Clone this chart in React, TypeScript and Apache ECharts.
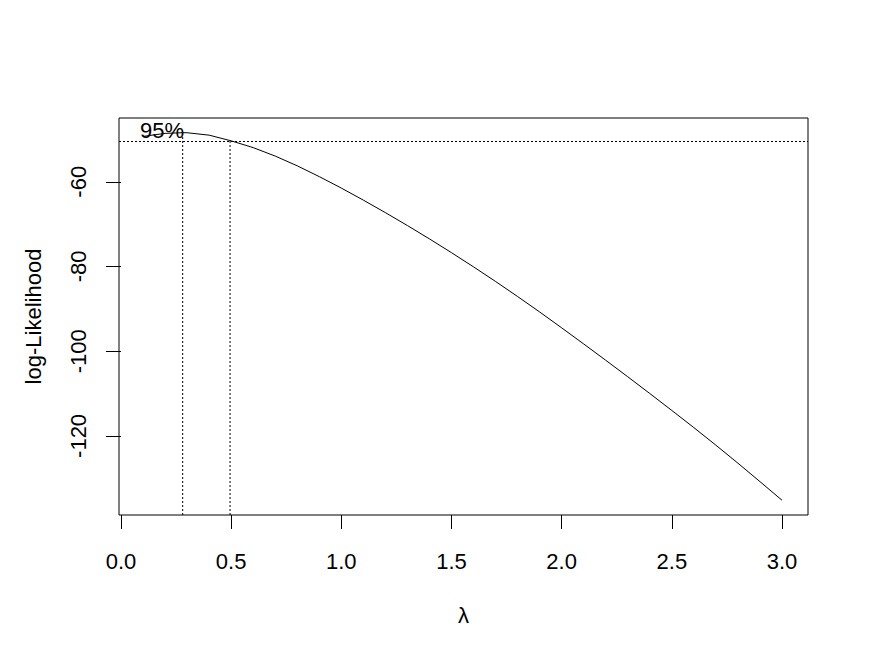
import React, { useEffect, useRef } from "react";
import * as echarts from "echarts";

const LAMBDA = [0.1, 0.2, 0.28, 0.3, 0.4, 0.5, 0.6, 0.7, 0.8, 0.9, 1.0, 1.1, 1.2, 1.3, 1.4, 1.5, 1.6, 1.7, 1.8, 1.9, 2.0, 2.1, 2.2, 2.3, 2.4, 2.5, 2.6, 2.7, 2.8, 2.9, 3.0];
const LOGLIK = [-49.3, -48.58, -48.42, -48.43, -49.0, -50.34, -51.94, -53.94, -56.24, -58.79, -61.49, -64.34, -67.29, -70.34, -73.49, -76.74, -80.09, -83.54, -87.09, -90.74, -94.49, -98.29, -102.14, -106.04, -109.99, -113.99, -118.04, -122.19, -126.44, -130.79, -135.19];
const X_TICKS = [0, 0.5, 1.0, 1.5, 2.0, 2.5, 3.0];
const Y_TICKS = [-120, -100, -80, -60];
const MLE_LAMBDA = 0.28;
const CI_UPPER = 0.495;
const LIM = -50.34;
const X_RANGE = [-0.009, 3.118];
const Y_RANGE = [-138.67, -44.95];
const LABEL_POS = [0.186, -47.8];

const FONT = "'Liberation Sans', Arial, sans-serif";

export default function App() {
  const ref = useRef<HTMLDivElement>(null);
  useEffect(() => {
    if (!ref.current) return;
    const chart = echarts.init(ref.current, null, { renderer: "svg" });
    const mx = Math.max(...LOGLIK);
    const dotted = { color: "#000", width: 1, type: [2, 2] as any };
    chart.setOption({
      animation: false,
      backgroundColor: "#fff",
      grid: {
        left: 119,
        top: 118,
        right: 61,
        bottom: 147,
        show: true,
        borderColor: "#000",
        borderWidth: 1,
        backgroundColor: "transparent",
      },
      xAxis: {
        type: "value",
        min: X_RANGE[0],
        max: X_RANGE[1],
        name: "λ",
        nameLocation: "middle",
        nameGap: 89,
        nameTextStyle: { fontFamily: FONT, fontSize: 22, color: "#000" },
        axisLine: { show: false },
        splitLine: { show: false },
        axisTick: { show: true, length: 14, customValues: X_TICKS, lineStyle: { color: "#000", width: 1 } },
        axisLabel: {
          customValues: X_TICKS,
          formatter: (v: number) => v.toFixed(1),
          fontFamily: FONT,
          fontSize: 22,
          color: "#000",
          margin: 35,
        },
      },
      yAxis: {
        type: "value",
        min: Y_RANGE[0],
        max: Y_RANGE[1],
        name: "log-Likelihood",
        nameLocation: "middle",
        nameGap: 75,
        nameTextStyle: { fontFamily: FONT, fontSize: 22, color: "#000" },
        axisLine: { show: false },
        splitLine: { show: false },
        axisTick: { show: true, length: 15, customValues: Y_TICKS, lineStyle: { color: "#000", width: 1 } },
        axisLabel: {
          customValues: Y_TICKS,
          formatter: (v: number) => String(v),
          rotate: 90,
          fontFamily: FONT,
          fontSize: 22,
          color: "#000",
          margin: 30,
        },
      },
      series: [
        {
          type: "line",
          data: LAMBDA.map((x, i) => [x, LOGLIK[i]]),
          showSymbol: false,
          symbol: "none",
          lineStyle: { color: "#000", width: 1 },
          markLine: {
            silent: true,
            symbol: "none",
            label: { show: false },
            lineStyle: dotted,
            data: [{ yAxis: LIM }],
          },
        },
        {
          type: "line",
          data: [[MLE_LAMBDA, Y_RANGE[0]], [MLE_LAMBDA, mx]],
          symbol: "none",
          lineStyle: dotted,
        },
        {
          type: "line",
          data: [[CI_UPPER, Y_RANGE[0]], [CI_UPPER, LIM]],
          symbol: "none",
          lineStyle: dotted,
        },
        {
          type: "scatter",
          data: [LABEL_POS],
          symbolSize: 0,
          itemStyle: { opacity: 1, color: "#000" },
          label: {
            show: true,
            position: "inside",
            formatter: "95%",
            fontFamily: FONT,
            fontSize: 22,
            color: "#000",
            opacity: 1,
            textBorderWidth: 0,
            textBorderColor: "transparent",
          },
        },
      ],
    });
    return () => chart.dispose();
  }, []);
  return (
    <div
      ref={ref}
      style={{ position: "fixed", left: 0, top: 0, width: 869, height: 662, background: "#fff" }}
    />
  );
}
